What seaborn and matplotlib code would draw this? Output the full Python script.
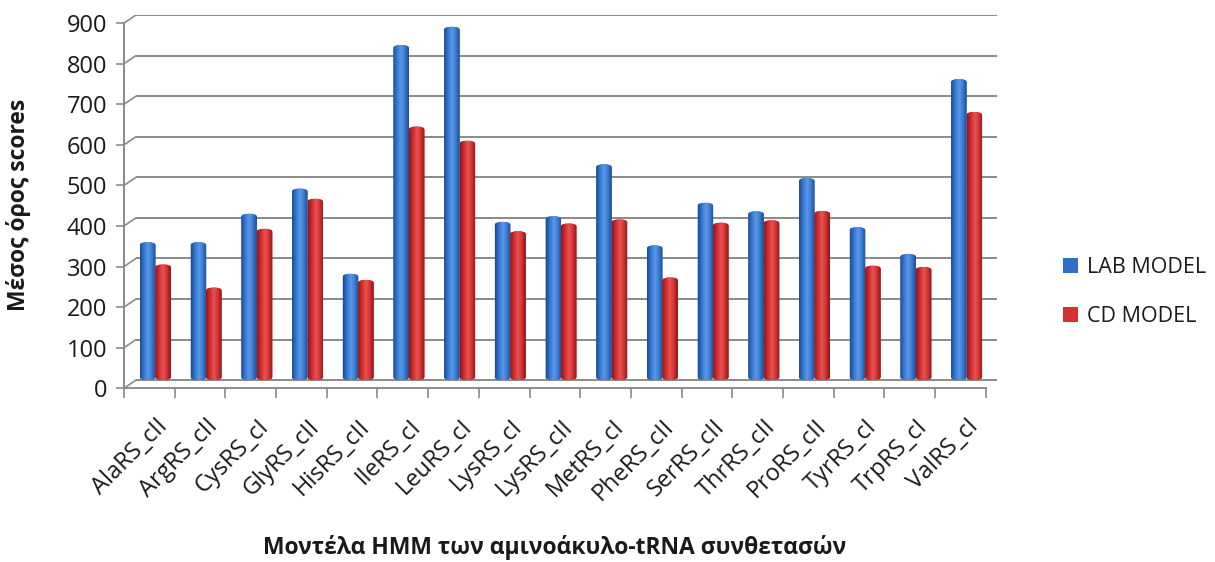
import numpy as np
import pandas as pd
import seaborn as sns
import matplotlib.pyplot as plt
from matplotlib.colors import LinearSegmentedColormap
from matplotlib.patches import Patch, FancyBboxPatch
from matplotlib.ticker import FixedLocator, MultipleLocator

# HMM models of the aminoacyl-tRNA synthetases
categories = ["AlaRS_cII", "ArgRS_cII", "CysRS_cI", "GlyRS_cII", "HisRS_cII",
              "IleRS_cI", "LeuRS_cI", "LysRS_cI", "LysRS_cII", "MetRS_cI",
              "PheRS_cII", "SerRS_cII", "ThrRS_cII", "ProRS_cII", "TyrRS_cI",
              "TrpRS_cI", "ValRS_cI"]
lab_model = [340, 340, 410, 472, 262, 826, 871, 390, 404, 532,
             332, 437, 416, 498, 377, 311, 742]
cd_model = [285, 228, 373, 447, 247, 625, 590, 367, 386, 396,
            253, 388, 394, 417, 282, 279, 661]
series_names = ["LAB MODEL", "CD MODEL"]
y_ticks = [0, 100, 200, 300, 400, 500, 600, 700, 800, 900]

series_colors = {"LAB MODEL": "#2f6fc8", "CD MODEL": "#d63030"}
# dark edge -> light middle -> dark edge, for a rounded column look
shade_maps = {
    "LAB MODEL": LinearSegmentedColormap.from_list(
        "lab", ["#1d4a93", "#3478d2", "#5b97e6", "#3a7bd3", "#1c4890"]),
    "CD MODEL": LinearSegmentedColormap.from_list(
        "cd", ["#8f1515", "#d02d2d", "#e85454", "#d33232", "#8c1414"]),
}
line_color = "#8a8a8a"

df = pd.DataFrame({
    "model": categories * 2,
    "score": lab_model + cd_model,
    "series": [series_names[0]] * len(categories) + [series_names[1]] * len(categories),
})

sns.set_style("white")
plt.rcParams["font.family"] = ["Open Sans", "DejaVu Sans"]

fig = plt.figure(figsize=(12.15, 5.62), dpi=100)
ax = fig.add_axes([124 / 1215, 0.3078, (997 - 124) / 1215, 0.6655])

n = len(categories)
x_front = -0.62          # front edge of the floor / side wall
x_back = -0.383          # back wall starts a little to the right
depth = 20               # front edge sits this far below the back wall (data units)
x_right = n - 0.4

sns.barplot(data=df, x="model", y="score", hue="series", order=categories,
            hue_order=series_names, palette=series_colors, width=0.61,
            linewidth=0, legend=False, ax=ax, zorder=3)

# rounded, shaded columns built on each bar's geometry
grad = np.linspace(0, 1, 64).reshape(1, -1)
for i, p in enumerate(list(ax.patches)):
    name = series_names[0] if i < n else series_names[1]
    x0, y0 = p.get_x(), p.get_y()
    w, h = p.get_width(), p.get_height()
    p.set_visible(False)
    col = FancyBboxPatch((x0, y0), w, h,
                         boxstyle=f"round,pad=0,rounding_size={w / 2:.4f}",
                         mutation_aspect=48, facecolor=series_colors[name],
                         edgecolor="none", zorder=3)
    ax.add_patch(col)
    im = ax.imshow(grad, extent=[x0, x0 + w, y0, y0 + h], cmap=shade_maps[name],
                   aspect="auto", interpolation="bicubic", zorder=4)
    im.set_clip_path(col)
ax.set_xlim(x_front, x_right)
ax.set_ylim(-22, 900)

# back-wall grid with short perspective connectors to the front axis
for v in y_ticks:
    ax.plot([x_back, x_right], [v, v], color=line_color, lw=1.4, zorder=1,
            solid_capstyle="butt")
    ax.plot([x_front, x_back], [v - depth, v], color=line_color, lw=1.2, zorder=1)

for side in ["top", "right"]:
    ax.spines[side].set_visible(False)
for side in ["left", "bottom"]:
    ax.spines[side].set_color(line_color)
    ax.spines[side].set_linewidth(1.4)
ax.spines["left"].set_bounds(-depth, 900 - depth)
ax.spines["bottom"].set_position(("data", -depth))
ax.spines["bottom"].set_bounds(x_front, n - 0.62)

# tick labels sit on the front edge
ax.yaxis.set_major_locator(FixedLocator([v - depth for v in y_ticks]))
ax.set_yticklabels([str(v) for v in y_ticks])
ax.tick_params(axis="y", which="major", left=True, length=6, width=1.2,
               color=line_color, labelsize=17, pad=6, labelcolor="#1a1a1a")

ax.xaxis.set_minor_locator(MultipleLocator(1, offset=0.38))
ax.tick_params(axis="x", which="minor", bottom=True, length=7, width=1.2,
               color=line_color)
ax.tick_params(axis="x", which="major", length=0, pad=19, labelsize=17,
               labelcolor="#1a1a1a")
ax.set_xticks(range(n))
ax.set_xticklabels(categories, rotation=45, ha="right", rotation_mode="anchor")

ax.set_xlabel("")
ax.set_ylabel("")
fig.text(555 / 1215, 1 - 548 / 562, "Μοντέλα HMM των αμινοάκυλο-tRNA συνθετασών",
         ha="center", va="center", fontsize=16.5, fontweight="bold", color="#1a1a1a")
fig.text(19 / 1215, 1 - 205 / 562, "Μέσος όρος scores", rotation=90,
         ha="center", va="center", fontsize=16.5, fontweight="bold", color="#1a1a1a")

handles = [Patch(facecolor=series_colors[s], edgecolor="none") for s in series_names]
fig.legend(handles, series_names, loc="center left",
           bbox_to_anchor=(1044 / 1215, 1 - 292 / 562), frameon=False,
           fontsize=15.5, handlelength=0.7, handleheight=0.7, handletextpad=0.4,
           labelspacing=1.3, labelcolor="#1a1a1a")

fig.savefig("out.png", dpi=100)
